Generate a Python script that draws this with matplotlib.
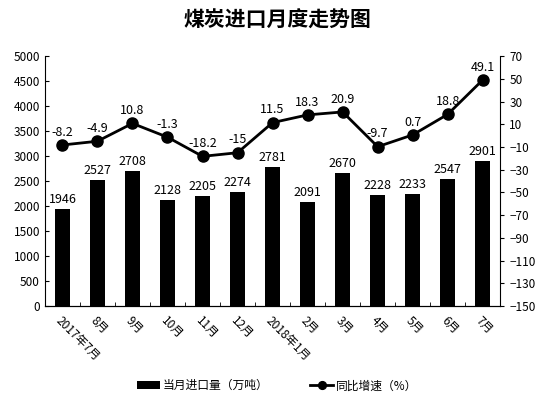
import matplotlib.pyplot as plt
import numpy as np

plt.rcParams['font.family'] = ['Noto Sans CJK SC', 'DejaVu Sans']

months = ['2017年7月', '8月', '9月', '10月', '11月', '12月', '2018年1月',
          '2月', '3月', '4月', '5月', '6月', '7月']
imports = [1946, 2527, 2708, 2128, 2205, 2274, 2781, 2091, 2670, 2228, 2233, 2547, 2901]
growth = [-8.2, -4.9, 10.8, -1.3, -18.2, -15, 11.5, 18.3, 20.9, -9.7, 0.7, 18.8, 49.1]
growth_labels = ['-8.2', '-4.9', '10.8', '-1.3', '-18.2', '-15', '11.5', '18.3',
                 '20.9', '-9.7', '0.7', '18.8', '49.1']

fig = plt.figure(figsize=(5.54, 4.07), dpi=100)
ax = fig.add_axes([0.081, 0.248, 0.822, 0.614])
x = np.arange(len(months))

bars = ax.bar(x, imports, width=0.42, color='black', label='当月进口量（万吨）')
for xi, v in zip(x, imports):
    ax.text(xi, v + 60, str(v), ha='center', va='bottom', fontsize=9)

ax.set_ylim(0, 5000)
ax.set_yticks(np.arange(0, 5001, 500))
ax.set_xlim(-0.5, len(months) - 0.5)
ax.set_xticks(x)
ax.set_xticklabels(months, rotation=-45, ha='left', rotation_mode='anchor', fontsize=8.5)
ax.set_xticks(np.arange(-0.5, len(months), 1), minor=True)
ax.tick_params(axis='x', which='major', length=0, pad=6)
ax.tick_params(axis='x', which='minor', length=3, direction='in')
ax.tick_params(axis='y', labelsize=8.5, length=3, direction='in')
ax.spines['top'].set_visible(False)
ax.spines['right'].set_visible(False)

ax2 = ax.twinx()
line, = ax2.plot(x, growth, color='black', marker='o', markersize=8, linewidth=2,
                 label='同比增速（%）')
for xi, v, s in zip(x, growth, growth_labels):
    ax2.text(xi, v + 5.5, s, ha='center', va='bottom', fontsize=9)
ax2.set_ylim(-150, 70)
ax2.set_yticks(np.arange(-150, 71, 20))
ax2.tick_params(axis='y', labelsize=8.5, length=3, direction='out')
ax2.spines['top'].set_visible(False)
ax2.spines['left'].set_visible(False)

fig.suptitle('煤炭进口月度走势图', y=0.975, fontsize=15, fontweight='bold')
fig.legend([bars, line], ['当月进口量（万吨）', '同比增速（%）'], loc='lower center',
           bbox_to_anchor=(0.5, 0.01), ncol=2, frameon=False, fontsize=8.5,
           handlelength=2.0, handletextpad=0.2, columnspacing=3.5, markerscale=0.7)

fig.savefig('out.png', dpi=100)
